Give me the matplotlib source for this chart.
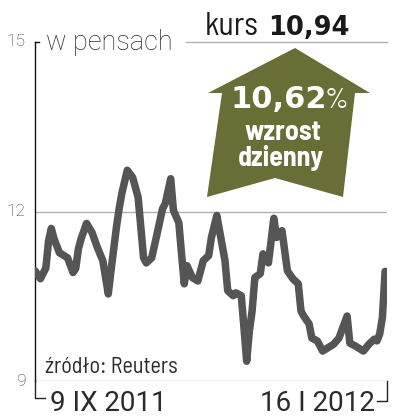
import matplotlib
matplotlib.use('Agg')
import matplotlib.pyplot as plt
from matplotlib.patches import Polygon
from matplotlib.lines import Line2D

# kurs w pensach, dni od 9 IX 2011
days = [0, 2, 4, 5, 6, 7, 9, 12, 14, 15, 16, 17, 19, 21, 23, 25, 27, 28, 30, 31,
        32, 34, 36, 38, 39, 40, 41, 43, 45, 47, 48, 50, 51, 53, 54, 55, 56, 58, 60, 62,
        64, 65, 67, 68, 70, 71, 73, 74, 76, 77, 78, 79, 80, 81, 83, 84, 86, 87, 88, 89,
        91, 93, 95, 97, 98, 99, 101, 102, 104, 106, 108, 109, 110, 112, 115, 116, 118, 121, 123, 125,
        126, 127, 128, 129]
price = [10.95, 10.81, 11.00, 11.48, 11.70, 11.52, 11.27, 11.18, 10.92, 10.99, 11.34, 11.52, 11.79, 11.63, 11.36, 11.13, 10.54, 10.95, 11.72, 12.05,
         12.32, 12.73, 12.60, 12.25, 11.72, 11.18, 11.09, 11.18, 11.61, 12.05, 12.14, 12.58, 12.02, 11.80, 11.25, 10.72, 11.04, 10.83, 10.77, 11.13,
         11.22, 11.54, 11.93, 11.66, 11.13, 10.60, 10.51, 10.56, 10.51, 9.94, 9.35, 9.89, 10.24, 10.83, 10.90, 11.25, 11.09, 11.48, 11.88, 11.54,
         11.66, 10.95, 10.81, 10.72, 10.24, 10.15, 10.01, 9.76, 9.71, 9.53, 9.59, 9.62, 9.65, 9.76, 10.15, 9.67, 9.62, 9.53, 9.65, 9.74,
         9.71, 9.83, 10.12, 10.94]
yticks = [9, 12, 15]
date_labels = ['9 IX 2011', '16 I 2012']
last_price = '10,94'
change = '10,62'

W, H = 395, 418
NARROW = ['Barlow Semi Condensed', 'DejaVu Sans']
ROBOTO = ['Roboto', 'DejaVu Sans']
WIDE = ['DejaVu Sans']
TXT = '#2b2b2b'
OLIVE = '#696d36'


def fx(px):
    return px / W


def fy(py):
    return 1 - py / H


fig = plt.figure(figsize=(W / 100, H / 100), dpi=100)
fig.patch.set_facecolor('white')
ax = fig.add_axes([fx(35), fy(381), fx(387) - fx(35), fy(42) - fy(381)])

ax.plot(days, price, color='#555555', lw=5.4, solid_joinstyle='round', solid_capstyle='round', zorder=3)
ax.set_xlim(0, 129.7)
ax.set_ylim(9, 15)

ax.axhline(12, color='#b0b0b0', lw=1, zorder=1)
ax.axhline(9, color='#b8b8b8', lw=1, zorder=1)
ax.plot([0.43, 1], [1, 1], transform=ax.transAxes, color='#b0b0b0', lw=1, clip_on=False)

for s in ['top', 'right', 'bottom']:
    ax.spines[s].set_visible(False)
ax.spines['left'].set_color('#111111')
ax.spines['left'].set_linewidth(1)
ax.set_xticks([])
ax.set_yticks([])
for v in yticks:
    ax.text(-0.026, v, str(v), transform=ax.get_yaxis_transform(), ha='right', va='center',
            fontsize=12.5, color='#3a3a3a', family=ROBOTO, weight='light')
ax.plot([0, 0.012], [1, 1], transform=ax.transAxes, color='#111111', lw=1, clip_on=False)

# wsporniki pod osia
fig.add_artist(Line2D([fx(35), fx(35), fx(45)], [fy(381), fy(398), fy(398)], color='#222222', lw=1))
fig.add_artist(Line2D([fx(387), fx(387), fx(377)], [fy(381), fy(401), fy(401)], color='#222222', lw=1))

fig.text(fx(50), fy(411), date_labels[0], ha='left', va='baseline', fontsize=20, color=TXT, family=ROBOTO)
fig.text(fx(375), fy(411), date_labels[1], ha='right', va='baseline', fontsize=20, color=TXT, family=ROBOTO)

fig.text(fx(46), fy(50), 'w pensach', ha='left', va='baseline', fontsize=19.5, color=TXT, family=ROBOTO,
         weight='light')
fig.text(fx(259), fy(35), 'kurs', ha='right', va='baseline', fontsize=23, color='#1a1a1a', family=NARROW)
fig.text(fx(268), fy(35), last_price, ha='left', va='baseline', fontsize=18.5, color='#1a1a1a',
         family=WIDE, weight='bold')

fig.text(fx(45), fy(373), 'źródło: Reuters', ha='left', va='baseline', fontsize=16, color=TXT, family=NARROW)

# strzalka
pts = [(295, 48), (370, 93), (355, 93), (343, 197), (275, 178), (207, 197), (222, 93), (208, 93)]
arrow = Polygon([(fx(a), fy(b)) for a, b in pts], closed=True, transform=fig.transFigure,
                facecolor=OLIVE, edgecolor='none')
fig.add_artist(arrow)
fig.text(fx(327), fy(108), change, ha='right', va='baseline', fontsize=22, color='white',
         family=WIDE, weight='bold')
fig.text(fx(325), fy(108), '%', ha='left', va='baseline', fontsize=21, color='white', family=NARROW)
fig.text(fx(283), fy(140), 'wzrost', ha='center', va='baseline', fontsize=20, color='white',
         family=NARROW, weight='bold')
fig.text(fx(281), fy(166), 'dzienny', ha='center', va='baseline', fontsize=20, color='white',
         family=NARROW, weight='bold')

fig.savefig('out.png', dpi=100, facecolor='white')
